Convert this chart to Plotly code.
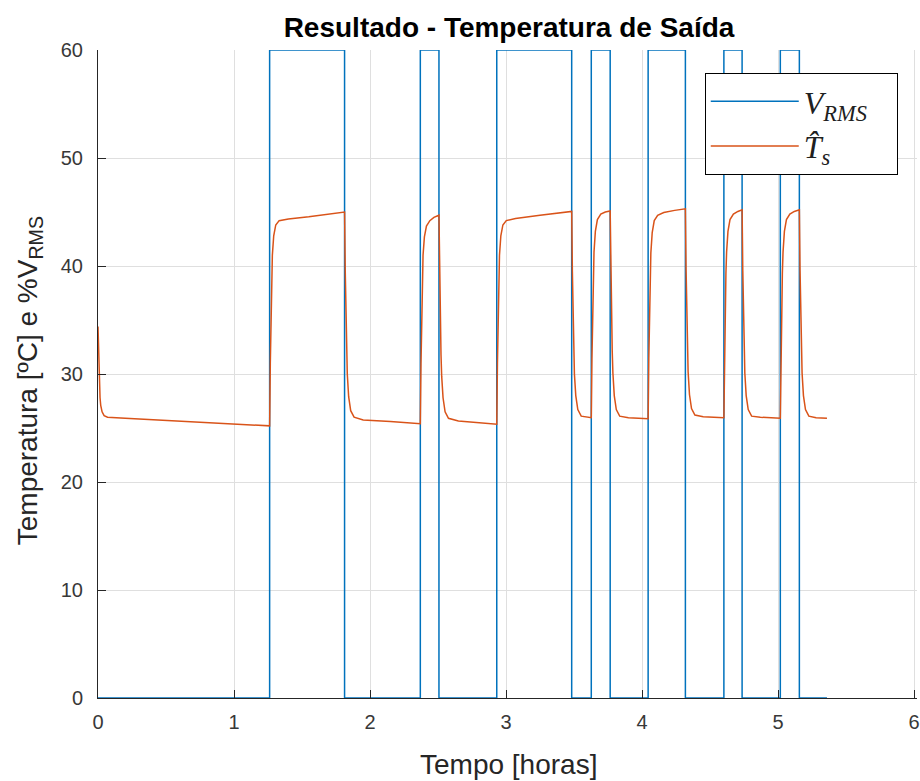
import plotly.graph_objects as go

# ---- data ----
# heater command (% Vrms), step signal
v_time = [0, 1.262, 1.813, 2.370, 2.507, 2.932, 3.483, 3.627, 3.766, 4.045,
          4.319, 4.602, 4.736, 5.017, 5.157, 5.360]
v_value = [0, 60, 0, 60, 0, 60, 0, 60, 0, 60, 0, 60, 0, 60, 0, 0]

# estimated outlet temperature
t_time = [
    0.000, 0.005, 0.010, 0.015, 0.020, 0.030, 0.045, 0.070, 0.200, 0.500, 0.800, 1.000, 1.262,
    1.267, 1.272, 1.277, 1.282, 1.292, 1.307, 1.332, 1.400, 1.550, 1.700, 1.813,
    1.818, 1.823, 1.828, 1.833, 1.843, 1.858, 1.883, 1.950, 2.150, 2.370,
    2.375, 2.380, 2.385, 2.390, 2.400, 2.415, 2.440, 2.470, 2.507,
    2.512, 2.517, 2.522, 2.527, 2.537, 2.552, 2.577, 2.650, 2.800, 2.932,
    2.937, 2.942, 2.947, 2.952, 2.962, 2.977, 3.002, 3.070, 3.250, 3.483,
    3.488, 3.493, 3.498, 3.503, 3.513, 3.528, 3.553, 3.590, 3.627,
    3.632, 3.637, 3.642, 3.647, 3.657, 3.672, 3.697, 3.730, 3.766,
    3.771, 3.776, 3.781, 3.786, 3.796, 3.811, 3.836, 3.900, 4.045,
    4.050, 4.055, 4.060, 4.065, 4.075, 4.090, 4.115, 4.160, 4.240, 4.319,
    4.324, 4.329, 4.334, 4.339, 4.349, 4.364, 4.389, 4.450, 4.602,
    4.607, 4.612, 4.617, 4.622, 4.632, 4.647, 4.672, 4.705, 4.736,
    4.741, 4.746, 4.751, 4.756, 4.766, 4.781, 4.806, 4.870, 5.017,
    5.022, 5.027, 5.032, 5.037, 5.047, 5.062, 5.087, 5.120, 5.157,
    5.162, 5.167, 5.172, 5.177, 5.187, 5.202, 5.227, 5.280, 5.360,
]
t_value = [
    34.4, 31.0, 29.0, 27.8, 27.1, 26.5, 26.15, 26.0, 25.9, 25.7, 25.5, 25.35, 25.2,
    31.0, 36.0, 39.0, 41.0, 42.8, 43.8, 44.2, 44.35, 44.55, 44.8, 45.0,
    39.5, 35.0, 32.0, 30.0, 27.9, 26.6, 26.0, 25.75, 25.6, 25.4,
    31.0, 36.0, 39.0, 41.0, 42.7, 43.7, 44.2, 44.5, 44.7,
    39.3, 34.8, 31.8, 29.8, 27.8, 26.5, 25.9, 25.65, 25.5, 25.35,
    31.0, 36.0, 39.0, 41.0, 42.8, 43.8, 44.2, 44.4, 44.7, 45.05,
    39.5, 35.0, 32.0, 30.0, 28.0, 26.7, 26.1, 26.0, 25.95,
    31.5, 36.3, 39.3, 41.3, 43.2, 44.3, 44.8, 45.0, 45.1,
    39.6, 35.1, 32.1, 30.1, 28.0, 26.7, 26.1, 25.95, 25.85,
    31.4, 36.2, 39.2, 41.2, 43.1, 44.2, 44.7, 44.95, 45.15, 45.3,
    39.7, 35.2, 32.2, 30.2, 28.1, 26.8, 26.2, 26.05, 25.95,
    31.5, 36.3, 39.3, 41.3, 43.2, 44.3, 44.8, 45.05, 45.2,
    39.6, 35.1, 32.1, 30.1, 28.0, 26.7, 26.1, 26.0, 25.9,
    31.5, 36.3, 39.3, 41.3, 43.2, 44.3, 44.8, 45.05, 45.2,
    39.6, 35.1, 32.1, 30.1, 28.0, 26.7, 26.1, 25.95, 25.9,
]

x_ticks = [0, 1, 2, 3, 4, 5, 6]
y_ticks = [0, 10, 20, 30, 40, 50, 60]

title_text = "Resultado - Temperatura de Saída"
x_label = "Tempo [horas]"
y_label = "Temperatura [ºC] e %V<sub>RMS</sub>"
legend_names = ["<i>V</i><sub><i>RMS</i></sub>\u00a0\u00a0\u00a0",
                "<i>T\u0302</i><sub><i>s</i></sub>\u00a0\u00a0\u00a0\u00a0\u00a0\u00a0"]

BLUE = "#0072BD"
ORANGE = "#D95319"
AXIS = "#262626"
TICKTXT = "#383838"
GRID = "#dfdfdf"

fig = go.Figure()
fig.add_trace(go.Scatter(x=v_time, y=v_value, mode="lines", name=legend_names[0],
                         line=dict(color=BLUE, width=1.5, shape="hv"), legendgroup="a"))
fig.add_trace(go.Scatter(x=t_time, y=t_value, mode="lines", name=legend_names[1],
                         line=dict(color=ORANGE, width=1.5), legendgroup="b"))

fig.update_layout(
    width=920, height=781,
    margin=dict(l=98, r=0, t=50, b=83),
    paper_bgcolor="white", plot_bgcolor="white",
    font=dict(family="Liberation Sans, Arial, sans-serif", color=TICKTXT, size=20),
    title=dict(text="<b>" + title_text + "</b>", xref="container", yref="container",
               x=509 / 920, y=1 - 27 / 781, xanchor="center", yanchor="middle",
               font=dict(size=28, color="black")),
    showlegend=True,
    legend=dict(x=0.9765, y=0.9645, xanchor="right", yanchor="top",
                bgcolor="white", bordercolor="black", borderwidth=1,
                font=dict(family="Liberation Serif, serif", size=32, color="#202020"),
                itemwidth=88, tracegroupgap=0, traceorder="grouped"),
    xaxis=dict(range=[0, 6.022], tickvals=x_ticks, ticktext=[str(v) for v in x_ticks],
               showgrid=True, gridcolor=GRID, gridwidth=1, zeroline=False,
               showline=True, linecolor=AXIS, linewidth=1, mirror=False,
               ticks="inside", ticklen=8, tickcolor=AXIS, tickwidth=1,
               ticklabelstandoff=6, ticklabeloverflow="allow"),
    yaxis=dict(range=[0, 60], tickvals=y_ticks, ticktext=[str(v) for v in y_ticks],
               showgrid=True, gridcolor=GRID, gridwidth=1, zeroline=False,
               showline=True, linecolor=AXIS, linewidth=1, mirror=False,
               ticks="inside", ticklen=8, tickcolor=AXIS, tickwidth=1,
               ticklabelstandoff=10),
    annotations=[
        dict(text=x_label, xref="paper", yref="paper", x=(510 - 98) / 822,
             y=(698 - 765) / 648, xanchor="center", yanchor="middle", showarrow=False,
             font=dict(size=28, color=AXIS)),
        dict(text=y_label, xref="paper", yref="paper", x=(30 - 98) / 822,
             y=(698 - 381) / 648, xanchor="center", yanchor="middle", showarrow=False,
             textangle=-90, font=dict(size=28, color=AXIS)),
    ],
)

fig.write_html("out.html")
